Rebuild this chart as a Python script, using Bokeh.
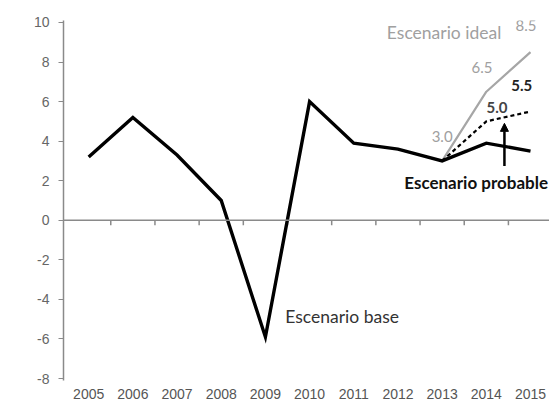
from bokeh.plotting import figure
from bokeh.models import Range1d, FixedTicker, Span, Arrow, NormalHead
from bokeh.core.properties import value
from bokeh.embed import file_html
from bokeh.resources import INLINE

years = [2005, 2006, 2007, 2008, 2009, 2010, 2011, 2012, 2013, 2014, 2015]
base = [3.2, 5.2, 3.3, 1.0, -5.9, 6.0, 3.9, 3.6, 3.0, 3.9, 3.5]
ideal_years = [2013, 2014, 2015]
ideal = [3.0, 6.5, 8.5]
probable_years = [2013, 2014, 2015]
probable = [3.0, 5.0, 5.5]
y_ticks = [-8, -6, -4, -2, 0, 2, 4, 6, 8, 10]

AX = "Liberation Sans"
LB = "Lato"

p = figure(width=549, height=409, output_backend="svg", toolbar_location=None,
           x_range=Range1d(2004.43, 2015.43), y_range=Range1d(-8.1, 10.1),
           min_border_left=63, min_border_right=0, min_border_top=20, min_border_bottom=29)
p.outline_line_color = None
p.grid.visible = False
p.background_fill_color = "white"

# y axis
ya = p.yaxis[0]
ya.ticker = FixedTicker(ticks=y_ticks)
ya.major_label_overrides = {t: str(t) for t in y_ticks}
ya.axis_line_color = "#8a8a8a"
ya.axis_line_width = 1.5
ya.major_tick_line_color = "#8a8a8a"
ya.major_tick_in = 0
ya.major_tick_out = 5
ya.minor_tick_line_color = None
ya.major_label_text_font = AX
ya.major_label_text_font_size = "14px"
ya.major_label_text_color = "#666666"
ya.major_label_standoff = 9

# x axis (labels only, at the bottom)
xa = p.xaxis[0]
xa.ticker = FixedTicker(ticks=years)
xa.major_label_overrides = {y: str(y) for y in years}
xa.axis_line_color = None
xa.major_tick_line_color = None
xa.minor_tick_line_color = None
xa.major_label_text_font = AX
xa.major_label_text_font_size = "14px"
xa.major_label_text_color = "#555555"
xa.major_label_standoff = 2

# zero line with ticks between the years
p.add_layout(Span(location=0, dimension="width", line_color="#8a8a8a", line_width=1.5))
mids = [y + 0.5 for y in years[:-1]]
p.segment(x0=mids, y0=[0] * len(mids), x1=mids, y1=[-0.25] * len(mids),
          line_color="#8a8a8a", line_width=1.5)

# series
p.line(ideal_years, ideal, line_color="#a6a6a6", line_width=2.2)
p.line(probable_years, probable, line_color="black", line_width=2.2, line_dash="4 3")
p.line(years, base, line_color="black", line_width=3.4, line_join="miter")

# labels
p.text(x=[2014.34], y=[9.5], text=["Escenario ideal"], text_align="right", text_baseline="middle",
       text_font=value(LB), text_font_size="17.5px", text_color="#a0a0a0")
p.text(x=[ideal_years[2] - 0.1], y=[9.85], text=[f"{ideal[2]:.1f}"], text_align="center", text_baseline="middle",
       text_font=value(LB), text_font_size="15px", text_color="#a0a0a0")
p.text(x=[ideal_years[1] - 0.1], y=[7.7], text=[f"{ideal[1]:.1f}"], text_align="center", text_baseline="middle",
       text_font=value(LB), text_font_size="15px", text_color="#a0a0a0")
p.text(x=[ideal_years[0]], y=[4.25], text=[f"{ideal[0]:.1f}"], text_align="center", text_baseline="middle",
       text_font=value(LB), text_font_size="15px", text_color="#a0a0a0")
p.text(x=[probable_years[2] - 0.2], y=[6.8], text=[f"{probable[2]:.1f}"], text_align="center", text_baseline="middle",
       text_font=value(LB), text_font_size="15px", text_font_style="bold", text_color="#222222")
p.text(x=[probable_years[1] + 0.24], y=[5.7], text=[f"{probable[1]:.1f}"], text_align="center", text_baseline="middle",
       text_font=value(LB), text_font_size="15px", text_font_style="bold", text_color="#444444")
p.text(x=[2013.77], y=[1.9], text=["Escenario probable"], text_align="center", text_baseline="middle",
       text_font=value(LB), text_font_size="17px", text_font_style="bold", text_color="#111111")
p.text(x=[2009.45], y=[-4.87], text=["Escenario base"], text_align="left", text_baseline="middle",
       text_font=value(LB), text_font_size="17.5px", text_color="#333333")

# arrow pointing to the probable scenario
p.add_layout(Arrow(end=NormalHead(size=8, fill_color="black", line_color="black"),
                   x_start=2014.41, y_start=2.75, x_end=2014.41, y_end=4.9,
                   line_color="black", line_width=2.5))

open("out.html", "w").write(file_html(p, INLINE))
